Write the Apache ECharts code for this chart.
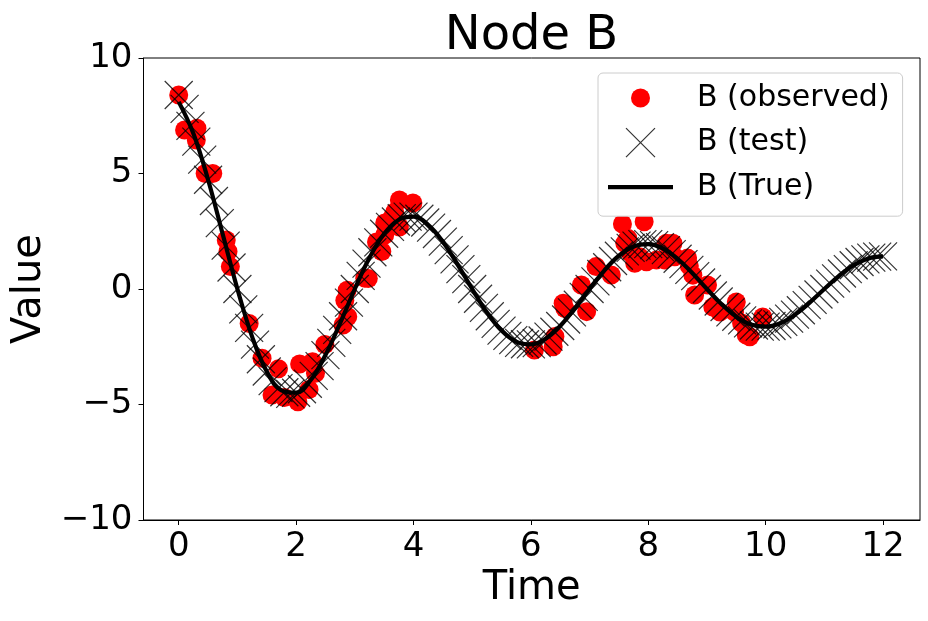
<!DOCTYPE html>
<html>
<head>
<meta charset="utf-8">
<title>Node B</title>
<script src="https://cdn.jsdelivr.net/npm/echarts@6/dist/echarts.min.js"></script>
<style>
  html, body { margin: 0; padding: 0; background: #fff; }
  #chart { width: 928px; height: 621px; }
</style>
</head>
<body>
<div id="chart"></div>
<script>
// observed samples (time, value)
var obsTime = [0.00, 0.10, 0.31, 0.30, 0.45, 0.58, 0.81, 0.84, 0.88,
  1.20, 1.42, 1.70, 1.59, 1.80, 2.03, 2.06, 2.22, 2.33, 2.28, 2.49, 2.80, 2.88, 2.83, 2.87, 3.17, 3.23,
  3.37, 3.46, 3.51, 3.51, 3.63, 3.68, 3.76, 3.76, 3.99, 3.55,
  6.06, 6.38, 6.41, 6.55, 6.58, 6.95, 6.86, 7.11,
  7.37, 7.56, 7.93, 7.60, 7.70, 7.77, 7.97, 7.65, 7.85,
  8.14, 8.28, 8.31, 8.42, 8.45, 8.67, 8.70, 8.76, 8.79, 9.01,
  9.10, 9.22, 9.50, 9.47, 9.59, 9.67, 9.73, 9.95];
var obsB = [8.40, 6.88, 6.96, 6.45, 5.00, 5.00, 2.12, 1.62, 0.97,
  -1.49, -3.00, -3.45, -4.59, -4.70, -4.88, -3.25, -4.35, -3.65, -3.15, -2.40, -1.56, -1.20, -0.50, -0.05, 0.47, 0.45,
  2.04, 1.62, 2.34, 2.86, 3.07, 3.33, 3.85, 2.68, 3.72, 2.60,
  -2.64, -2.50, -2.06, -0.62, -0.85, -0.98, 0.17, 0.97,
  0.61, 2.81, 2.91, 1.98, 1.56, 1.11, 1.18, 2.20, 1.40,
  1.26, 1.26, 1.98, 1.98, 1.40, 1.34, 1.00, 0.60, -0.26, 0.17,
  -0.78, -1.00, -0.56, -1.00, -1.47, -1.99, -2.07, -1.21];

// test prediction, one value every 0.1 time units from 0
var testStep = 0.1;
var testB = [8.40, 7.80, 7.06, 6.38, 5.60, 4.73, 3.81, 2.85, 1.88, 0.93, 0.00,
  -0.88, -1.68, -2.41, -3.04, -3.57, -3.99, -4.29, -4.47, -4.54, -4.49,
  -4.34, -4.10, -3.76, -3.34, -2.86, -2.33, -1.77, -1.18, -0.59, 0.00,
  0.57, 1.10, 1.59, 2.02, 2.39, 2.69, 2.92, 3.07, 3.13, 3.13,
  3.04, 2.88, 2.66, 2.38, 2.05, 1.68, 1.28, 0.86, 0.43, 0.00,
  -0.42, -0.82, -1.18, -1.51, -1.80, -2.03, -2.21, -2.33, -2.39, -2.40,
  -2.34, -2.23, -2.06, -1.85, -1.60, -1.32, -1.01, -0.68, -0.34, 0.00,
  0.33, 0.65, 0.94, 1.21, 1.44, 1.63, 1.78, 1.88, 1.94, 1.94,
  1.90, 1.81, 1.68, 1.51, 1.31, 1.08, 0.83, 0.56, 0.28, 0.00,
  -0.28, -0.54, -0.78, -1.01, -1.20, -1.36, -1.49, -1.58, -1.63, -1.63,
  -1.60, -1.53, -1.42, -1.28, -1.11, -0.92, -0.70, -0.47, -0.24, 0.00,
  0.23, 0.46, 0.67, 0.86, 1.03, 1.17, 1.28, 1.36, 1.40, 1.41];

// true curve, one value every 0.25 time units from 0
var trueStep = 0.25;
var trueB = [8.10, 6.73, 4.73, 2.37, 0.00, -2.06, -3.57, -4.39, -4.49,
  -3.94, -2.86, -1.48, 0.00, 1.35, 2.39, 3.00, 3.13,
  2.78, 2.05, 1.07, 0.00, -1.01, -1.80, -2.28, -2.40,
  -2.15, -1.60, -0.84, 0.00, 0.80, 1.44, 1.84, 1.94,
  1.75, 1.31, 0.69, 0.00, -0.66, -1.20, -1.54, -1.63,
  -1.48, -1.11, -0.59, 0.00, 0.57, 1.03, 1.32, 1.41];

var xTicks = [0, 2, 4, 6, 8, 10, 12];
var yTicks = [-10, -5, 0, 5, 10];

var FONT = 'DejaVu Sans';

function minus(v) {
  return String(v).replace('-', '\u2212');
}

var obsData = obsTime.map(function (t, i) { return [t, obsB[i]]; });
var testData = testB.map(function (v, i) { return [+(i * testStep).toFixed(2), v]; });
var trueData = trueB.map(function (v, i) { return [i * trueStep, v]; });

var chart = echarts.init(document.getElementById('chart'), null, { renderer: 'canvas' });

var option = {
  animation: false,
  backgroundColor: '#fff',
  title: {
    text: 'Node B',
    left: 531.5,
    textAlign: 'center',
    top: 13,
    padding: 0,
    textStyle: { fontFamily: FONT, fontSize: 48, fontWeight: 'normal', color: '#000' }
  },
  legend: {
    left: 598,
    top: 73,
    orient: 'vertical',
    padding: [10, 13, 14, 10],
    itemWidth: 65,
    itemHeight: 30,
    itemGap: 14,
    backgroundColor: '#fff',
    borderColor: '#cccccc',
    borderWidth: 1,
    borderRadius: 5,
    textStyle: { fontFamily: FONT, fontSize: 30, color: '#000', padding: [0, 0, 0, 19] },
    data: [
      {
        name: 'B (observed)',
        icon: 'path://M0,0M30,30M24.5,15A9.5,9.5,0,1,1,5.5,15A9.5,9.5,0,1,1,24.5,15Z',
        itemStyle: { color: '#ff0000', borderWidth: 0 }
      },
      {
        name: 'B (test)',
        icon: 'path://M0,0M30,30M0.5,0.5L29.5,29.5M29.5,0.5L0.5,29.5',
        itemStyle: { color: '#000', borderColor: '#000', borderWidth: 1.2 }
      },
      {
        name: 'B (True)',
        icon: 'path://M0,0L65,0L65,4.2L0,4.2Z',
        itemStyle: { color: '#000', borderWidth: 0 }
      }
    ]
  },
  grid: {
    left: 143.5,
    top: 58,
    right: 8,
    bottom: 101,
    show: true,
    borderColor: '#000',
    borderWidth: 1,
    containLabel: false
  },
  xAxis: {
    type: 'value',
    min: -0.6,
    max: 12.63,
    name: 'Time',
    nameLocation: 'middle',
    nameGap: 47,
    nameTextStyle: { fontFamily: FONT, fontSize: 40, color: '#000' },
    axisLine: { show: true, onZero: false, lineStyle: { color: '#000', width: 1 } },
    axisTick: { show: true, inside: false, length: 5, customValues: xTicks, lineStyle: { color: '#000', width: 1 } },
    axisLabel: {
      customValues: xTicks,
      margin: 10,
      fontFamily: FONT, fontSize: 34, color: '#000',
      formatter: minus
    },
    splitLine: { show: false }
  },
  yAxis: {
    type: 'value',
    min: -10,
    max: 10,
    interval: 5,
    name: 'Value',
    nameLocation: 'middle',
    nameGap: 93,
    nameTextStyle: { fontFamily: FONT, fontSize: 40, color: '#000' },
    axisLine: { show: true, onZero: false, lineStyle: { color: '#000', width: 1 } },
    axisTick: { show: true, inside: false, length: 5, lineStyle: { color: '#000', width: 1 } },
    axisLabel: {
      margin: 11,
      fontFamily: FONT, fontSize: 34, color: '#000',
      formatter: minus
    },
    splitLine: { show: false }
  },
  series: [
    {
      name: 'B (observed)',
      type: 'scatter',
      data: obsData,
      symbol: 'circle',
      symbolSize: 19,
      itemStyle: { color: '#ff0000', opacity: 1 },
      z: 2
    },
    {
      name: 'B (test)',
      type: 'scatter',
      data: testData,
      symbol: 'path://M0,0L10,10M10,0L0,10',
      symbolSize: 28,
      itemStyle: { color: '#000', borderColor: '#000', borderWidth: 1.2 },
      z: 3
    },
    {
      name: 'B (True)',
      type: 'line',
      data: trueData,
      symbol: 'none',
      smooth: 0.4,
      lineStyle: { color: '#000', width: 4.2 },
      z: 4
    }
  ]
};

chart.setOption(option);
</script>
</body>
</html>
